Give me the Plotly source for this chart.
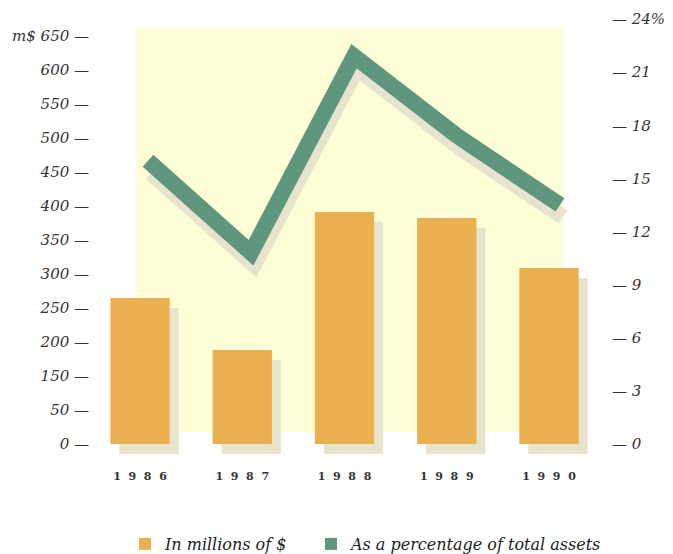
import plotly.graph_objects as go

# ---------------- data ----------------
years = [1986, 1987, 1988, 1989, 1990]
year_labels = ["1\u00a0\u00a09\u00a0\u00a08\u00a0\u00a06",
               "1\u00a0\u00a09\u00a0\u00a08\u00a0\u00a07",
               "1\u00a0\u00a09\u00a0\u00a08\u00a0\u00a08",
               "1\u00a0\u00a09\u00a0\u00a08\u00a0\u00a09",
               "1\u00a0\u00a09\u00a0\u00a09\u00a0\u00a00"]
millions = [214.7, 138.2, 341.2, 332.4, 258.8]          # left-axis units
pct_assets = [16.0, 10.8, 21.9, 17.4, 13.5]             # right axis, %
left_tick_vals = [0, 50, 100, 150, 200, 250, 300, 350, 400, 450, 500, 550, 600]
left_tick_text = ["0", "50", "150", "200", "250", "300", "350", "400", "450",
                  "500", "550", "600", "m$ 650"]
right_tick_vals = [0, 3, 6, 9, 12, 15, 18, 21, 24]
right_tick_text = ["0", "3", "6", "9", "12", "15", "18", "21", "24%"]
legend_names = ["In millions of $", "As a percentage of total assets"]

# ---------------- style ----------------
W, H = 673, 554
PL, PR, PT, PB = 100, 600, 15, 460          # plot area in px
BAR_PX_PER_YEAR = 102.25
BAR_FIRST_PX = 140
LINE_PX_PER_YEAR = 103.0
LINE_FIRST_PX = 148
ZERO_PX = 444
LEFT_PX_PER_UNIT = 0.68
RIGHT_PX_PER_UNIT = 17.708

ORANGE = "#EAB04F"
GREEN = "#5E977D"
SHADOW = "#E8E3CC"
PALE = "#FEFED6"
TXT = "#333333"
FONT = "DejaVu Serif"

def xr(first_px, ppy, shift_px=0.0):
    lo = years[0] - (first_px - PL) / ppy - shift_px / ppy
    return [lo, lo + (PR - PL) / ppy]

def yr(ppu, shift_px=0.0):
    lo = -(PB - ZERO_PX) / ppu
    hi = (ZERO_PX - PT) / ppu
    s = shift_px / ppu
    return [lo + s, hi + s]

fig = go.Figure()

# bar shadows (base axes)
fig.add_trace(go.Bar(x=years, y=millions, width=0.58, marker=dict(color=SHADOW, line_width=0),
                     xaxis="x", yaxis="y", showlegend=False, hoverinfo="skip"))
# bars
fig.add_trace(go.Bar(x=years, y=millions, width=0.58, marker=dict(color=ORANGE, line_width=0),
                     xaxis="x2", yaxis="y2", name=legend_names[0], legend="legend"))
# line shadow
fig.add_trace(go.Scatter(x=years, y=pct_assets, mode="lines", line=dict(color=SHADOW, width=16),
                         xaxis="x3", yaxis="y3", showlegend=False, hoverinfo="skip"))
# line
fig.add_trace(go.Scatter(x=years, y=pct_assets, mode="lines", line=dict(color=GREEN, width=16),
                         xaxis="x4", yaxis="y4", showlegend=False, name=legend_names[1]))
# legend entry (square) for the line
fig.add_trace(go.Bar(x=[None], y=[None], marker=dict(color=GREEN, line_width=0),
                     xaxis="x4", yaxis="y4", name=legend_names[1], legend="legend2"))

hidden = dict(showticklabels=False, showgrid=False, zeroline=False, showline=False, ticks="")
legend_common = dict(orientation="h", xanchor="left", yref="container",
                     y=(H - 527) / H, yanchor="top",
                     font=dict(family=FONT, size=16, color="#222222", style="italic"),
                     bgcolor="rgba(0,0,0,0)", itemclick=False, itemdoubleclick=False)

fig.update_layout(
    width=W, height=H,
    margin=dict(l=PL, r=W - PR, t=PT, b=H - PB, autoexpand=False),
    paper_bgcolor="white", plot_bgcolor="rgba(0,0,0,0)",
    barmode="overlay",
    xaxis=dict(range=xr(BAR_FIRST_PX, BAR_PX_PER_YEAR, 9), **hidden),
    yaxis=dict(range=yr(LEFT_PX_PER_UNIT, 10), **hidden),
    xaxis2=dict(range=xr(BAR_FIRST_PX, BAR_PX_PER_YEAR), overlaying="x", showgrid=False,
                zeroline=False, showline=False, ticks="", tickmode="array", tickvals=years,
                ticktext=year_labels,
                tickfont=dict(family=FONT, size=11, color=TXT, weight="bold"),
                ticklabelstandoff=8),
    yaxis2=dict(range=yr(LEFT_PX_PER_UNIT), overlaying="y", side="left", showgrid=False,
                zeroline=False, showline=False, ticks="", tickmode="array",
                tickvals=left_tick_vals, ticktext=[t + " \u2014" for t in left_tick_text],
                tickfont=dict(family=FONT, size=15, color=TXT, style="italic"),
                ticklabelstandoff=10),
    xaxis3=dict(range=xr(LINE_FIRST_PX, LINE_PX_PER_YEAR, 3), overlaying="x", **hidden),
    yaxis3=dict(range=yr(RIGHT_PX_PER_UNIT, 12), overlaying="y", **hidden),
    xaxis4=dict(range=xr(LINE_FIRST_PX, LINE_PX_PER_YEAR), overlaying="x", **hidden),
    yaxis4=dict(range=yr(RIGHT_PX_PER_UNIT), overlaying="y", side="right", showgrid=False,
                zeroline=False, showline=False, ticks="", tickmode="array",
                tickvals=right_tick_vals, ticktext=["\u2014 " + t for t in right_tick_text],
                tickfont=dict(family=FONT, size=15, color=TXT, style="italic"),
                ticklabelstandoff=11),
    legend=dict(x=(125 - PL) / (PR - PL), **legend_common),
    legend2=dict(x=(311 - PL) / (PR - PL), **legend_common),
    shapes=[dict(type="rect", xref="paper", yref="paper", layer="below",
                 x0=(136 - PL) / (PR - PL), x1=(563 - PL) / (PR - PL),
                 y0=(PB - 432) / (PB - PT), y1=(PB - 28) / (PB - PT),
                 fillcolor=PALE, line_width=0)],
)

fig.write_html("out.html")
